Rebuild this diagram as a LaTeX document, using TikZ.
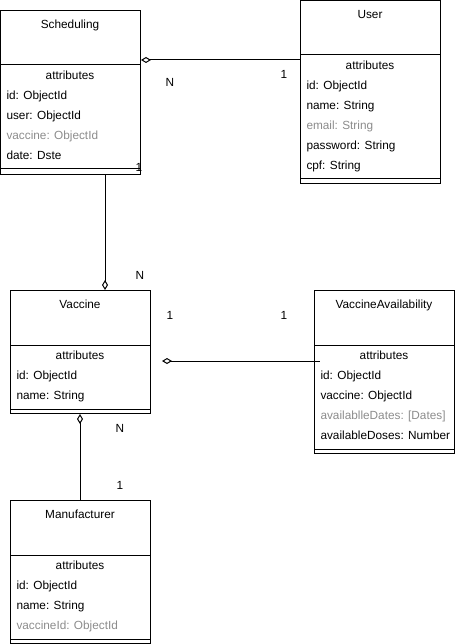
\documentclass[tikz,border=0pt]{standalone}
\usepackage{fontspec}
\setmainfont{Liberation Sans}
\usetikzlibrary{arrows.meta,calc}
\definecolor{fadedtext}{HTML}{8C8C8C}
\begin{document}
\begin{tikzpicture}[x=1pt,y=-1pt,line width=1pt,
    every node/.style={font=\fontsize{11.8}{14}\selectfont,inner sep=0pt,yshift=-1.6pt,
      text height=8.6pt,text depth=2.6pt},
    classbox/.style={draw,anchor=north west,minimum width=140pt,yshift=1.6pt},
    field/.style={anchor=west},
    faded/.style={field,text=fadedtext},
    aggfrom/.style={{Diamond[open,length=10pt,width=6pt]}-},
    aggto/.style={-{Diamond[open,length=10pt,width=6pt]}}]
    \useasboundingbox (0,0) rectangle (455,644);

    % Scheduling
    \node[classbox,minimum height=164pt] (sched) at (0,10) {};
    \node (schedT) at (70,24) {Scheduling};
    \draw (0,65) -- (140,65);
    \draw (0,169) -- (140,169);
    \node (schedA) at (70,75) {attributes};
    \node[field] (sched1) at (6,95) {id: ObjectId};
    \node[field] (sched2) at (6,115) {user: ObjectId};
    \node[faded] (sched3) at (6,135) {vaccine: ObjectId};
    \node[field] (sched4) at (6,155) {date: Dste};

    % User
    \node[classbox,minimum height=183pt] (user) at (300,0) {};
    \node (userT) at (370,14) {User};
    \draw (300,55) -- (440,55);
    \draw (300,179) -- (440,179);
    \node (userA) at (370,65) {attributes};
    \node[field] (user1) at (306,85) {id: ObjectId};
    \node[field] (user2) at (306,105) {name: String};
    \node[faded] (user3) at (306,125) {email: String};
    \node[field] (user4) at (306,145) {password: String};
    \node[field] (user5) at (306,165) {cpf: String};

    % Vaccine
    \node[classbox,minimum height=123pt] (vacc) at (10,290) {};
    \node (vaccT) at (80,304) {Vaccine};
    \draw (10,345) -- (150,345);
    \draw (10,409) -- (150,409);
    \node (vaccA) at (80,355) {attributes};
    \node[field] (vacc1) at (16,375) {id: ObjectId};
    \node[field] (vacc2) at (16,395) {name: String};

    % VaccineAvailability
    \node[classbox,minimum height=163pt] (avail) at (314,290) {};
    \node (availT) at (384,304) {VaccineAvailability};
    \draw (314,345) -- (454,345);
    \draw (314,449) -- (454,449);
    \node (availA) at (384,355) {attributes};
    \node[field] (avail1) at (320,375) {id: ObjectId};
    \node[field] (avail2) at (320,395) {vaccine: ObjectId};
    \node[faded] (avail3) at (320,415) {availablleDates: [Dates]};
    \node[field] (avail4) at (320,435) {availableDoses: Number};

    % Manufacturer
    \node[classbox,minimum height=143pt] (manuf) at (10,500) {};
    \node (manufT) at (80,514) {Manufacturer};
    \draw (10,555) -- (150,555);
    \draw (10,639) -- (150,639);
    \node (manufA) at (80,565) {attributes};
    \node[field] (manuf1) at (16,585) {id: ObjectId};
    \node[field] (manuf2) at (16,605) {name: String};
    \node[faded] (manuf3) at (16,625) {vaccineId: ObjectId};

    % relations
    \draw[aggfrom] (sched.east |- 0,60) -- (user.west |- 0,60);
    \draw[aggto] (sched.south -| 105,0) -- (vacc.north -| 105,0);
    \draw[aggfrom] ($(vacc.east |- 0,361)+(11,0)$) -- ($(avail.west |- 0,361)+(6,0)$);
    \draw[aggfrom] (vacc.south -| 80,0) -- (manuf.north -| 80,0);

    % multiplicities
    \node (m1) at (170,82) {N};
    \node (m2) at (284,74) {1};
    \node (m3) at (139,167) {1};
    \node (m4) at (140,275) {N};
    \node (m5) at (170,315) {1};
    \node (m6) at (284,315) {1};
    \node (m7) at (120,428) {N};
    \node (m8) at (120,485) {1};
\end{tikzpicture}
\end{document}
